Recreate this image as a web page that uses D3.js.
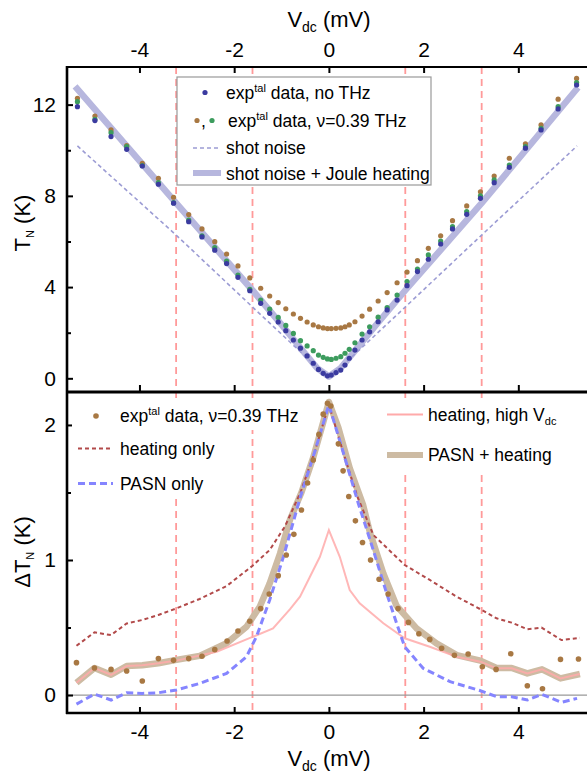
<!DOCTYPE html>
<html>
<head>
<meta charset="utf-8">
<script src="https://cdn.jsdelivr.net/npm/d3@7"></script>
<style>
  body { margin: 0; background: #fff; }
  svg text { font-family: "Liberation Sans", Arial, sans-serif; }
</style>
</head>
<body>
<div id="chart"></div>
<script>
// size of page and plot frame
const width = 587;
const height = 775;
const frame = {left: 67, right: 587, top: 67, mid: 392, bottom: 713};

// ---- top panel data (T_N vs V_dc) ----
const vPts = [-5.31, -4.94, -4.6, -4.27, -3.94, -3.6, -3.28, -2.96, -2.68, -2.41, -2.16, -1.92,
  -1.67, -1.44, -1.25, -1.07, -0.91, -0.75, -0.6, -0.46, -0.33, -0.22, -0.12, -0.03,
  0.05, 0.15, 0.25, 0.34, 0.43, 0.55, 0.70, 0.86, 1.04, 1.23, 1.44, 1.65, 1.87, 2.1,
  2.36, 2.61, 2.91, 3.2, 3.49, 3.81, 4.15, 4.48, 4.84, 5.23];
const tBrown = [12.28, 11.5, 10.89, 10.2, 9.43, 8.77, 7.94, 7.18, 6.55, 5.99, 5.45, 4.93,
  4.4, 3.95, 3.61, 3.32, 3.05, 2.82, 2.63, 2.47, 2.34, 2.26, 2.21, 2.18,
  2.18, 2.19, 2.21, 2.26, 2.34, 2.48, 2.73, 3.03, 3.39, 3.76, 4.19, 4.66, 5.16, 5.7,
  6.25, 6.91, 7.56, 8.18, 8.87, 9.65, 10.28, 11.11, 12.24, 13.15];
const tGreen = [12.13, 11.36, 10.77, 10.16, 9.33, 8.58, 7.7, 6.94, 6.25, 5.73, 5.14, 4.53,
  3.9, 3.43, 3.03, 2.67, 2.32, 1.97, 1.65, 1.42, 1.21, 1.02, 0.92, 0.85,
  0.83, 0.88, 0.95, 1.1, 1.27, 1.56, 1.94, 2.26, 2.68, 3.1, 3.65, 4.24, 4.79, 5.41,
  6.02, 6.65, 7.31, 8.0, 8.7, 9.35, 10.16, 10.96, 11.91, 12.97];
const tBlue = [11.91, 11.3, 10.6, 10.04, 9.31, 8.51, 7.68, 6.87, 6.2, 5.62, 5.03, 4.43,
  3.84, 3.29, 2.85, 2.47, 2.09, 1.68, 1.32, 0.98, 0.66, 0.39, 0.22, 0.11,
  0.14, 0.25, 0.36, 0.58, 0.88, 1.24, 1.68, 2.04, 2.48, 3.0, 3.43, 4.06, 4.68, 5.22,
  5.89, 6.55, 7.19, 7.89, 8.58, 9.25, 10.09, 10.89, 11.81, 12.86];

const shotV = [-5.31, -3.22, -1.61, -0.75, -0.4, -0.2, 0, 0.2, 0.4, 0.75, 1.61, 3.22, 5.24];
const shotT = [10.19, 6.27, 3.12, 1.45, 0.78, 0.42, 0.1, 0.42, 0.78, 1.45, 3.12, 6.27, 10.19];

const jouleV = [-5.36, -3.22, -1.61, -1.0, -0.5, -0.25, 0, 0.25, 0.5, 1.0, 1.61, 3.22, 5.26];
const jouleT = [12.8, 7.67, 3.85, 2.35, 1.08, 0.45, 0.08, 0.45, 1.08, 2.35, 3.85, 7.67, 12.75];

// ---- bottom panel data (delta T_N vs V_dc) ----
const dV = [-5.33, -4.95, -4.6, -4.27, -3.94, -3.6, -3.28, -2.96, -2.68, -2.41, -2.15, -1.92,
  -1.67, -1.44, -1.26, -1.07, -0.9, -0.74, -0.58, -0.45, -0.33, -0.21, -0.12, -0.03,
  0.04, 0.2, 0.3, 0.42, 0.56, 0.71, 0.88, 1.06, 1.25, 1.46, 1.68, 1.9, 2.13, 2.38,
  2.65, 2.94, 3.24, 3.53, 3.84, 4.19, 4.51, 4.89, 5.27];
const dT = [0.24, 0.2, 0.19, 0.178, 0.104, 0.27, 0.257, 0.27, 0.287, 0.336, 0.4, 0.474,
  0.546, 0.64, 0.748, 0.884, 1.037, 1.19, 1.37, 1.57, 1.74, 1.93, 2.08, 2.16,
  2.14, 1.86, 1.66, 1.47, 1.29, 1.13, 1.0, 0.857, 0.748, 0.64, 0.538, 0.454, 0.412, 0.346,
  0.294, 0.304, 0.21, 0.19, 0.306, 0.069, 0.047, 0.264, 0.267];

const heatV = [-5.33, -4.95, -4.6, -4.27, -3.94, -3.6, -3.22, -2.73, -2.16, -1.61, -1.25, -0.93,
  -0.6, -0.3, 0, 0.3, 0.6, 0.94, 1.6, 2.13, 2.7, 3.2, 3.54, 3.86, 4.19, 4.49, 4.91, 5.3];
const heatT = [0.365, 0.464, 0.444, 0.53, 0.556, 0.593, 0.642, 0.711, 0.807, 0.958, 1.074, 1.247,
  1.5, 1.8, 2.15, 1.8, 1.47, 1.185, 0.963, 0.852, 0.728, 0.635, 0.568, 0.536, 0.487, 0.499, 0.407, 0.424];

const pasnV = [-5.33, -4.95, -4.6, -4.27, -3.94, -3.6, -3.22, -2.73, -2.16, -1.74, -1.53, -1.25,
  -0.96, -0.6, -0.3, 0, 0.3, 0.62, 0.87, 1.22, 1.43, 1.6, 1.99, 2.56, 3.2, 3.54, 3.86, 4.19,
  4.5, 4.91, 5.24];
const pasnT = [-0.067, 0.007, -0.037, 0.017, 0.012, 0.017, 0.037, 0.086, 0.16, 0.284, 0.432, 0.704,
  1.024, 1.47, 1.8, 2.15, 1.8, 1.42, 1.148, 0.753, 0.531, 0.358, 0.198, 0.099, 0.032, -0.012, -0.012, -0.037,
  0.005, -0.054, -0.025];

const highV = [-5.33, -4.95, -4.6, -4.27, -3.94, -3.6, -3.22, -2.37, -1.6, -1.18, -0.82, -0.61,
  -0.4, -0.19, 0, 0.23, 0.44, 0.65, 1.15, 1.6, 2.13, 2.7, 3.2, 3.54, 3.86, 4.19, 4.5, 4.89, 5.3];
const highT = [0.091, 0.2, 0.15, 0.215, 0.22, 0.235, 0.255, 0.321, 0.432, 0.494, 0.636, 0.728,
  0.876, 1.024, 1.222, 1.024, 0.778, 0.679, 0.531, 0.42, 0.358, 0.284, 0.247, 0.198, 0.198, 0.16, 0.19, 0.123, 0.156];

const bothV = [-5.33, -4.95, -4.6, -4.27, -3.94, -3.6, -3.22, -2.73, -2.16, -1.74, -1.46, -1.25,
  -1.03, -0.82, -0.58, -0.33, -0.12, 0, 0.2, 0.44, 0.72, 0.87, 1.15, 1.43, 1.85, 2.27, 2.7,
  3.2, 3.54, 3.86, 4.19, 4.5, 4.89, 5.3];
const bothT = [0.091, 0.2, 0.15, 0.215, 0.22, 0.235, 0.26, 0.29, 0.383, 0.506, 0.654, 0.827,
  1.05, 1.3, 1.5, 1.76, 2.02, 2.17, 1.98, 1.68, 1.41, 1.2, 0.9, 0.66, 0.494, 0.383, 0.296,
  0.255, 0.2, 0.2, 0.16, 0.19, 0.123, 0.156];

// photon energy lines hf/e and 2hf/e
const photonV = [-3.226, -1.613, 1.613, 3.226];

const xTicks = [-4, -2, 0, 2, 4];
const yTopTicks = [0, 4, 8, 12];
const yTopMinor = [2, 6, 10];
const yBotTicks = [0, 1, 2];
const yBotMinor = [0.5, 1.5];

const svg = d3.select("#chart").append("svg")
  .attr("width", width)
  .attr("height", height);

// scales
const x = d3.scaleLinear().domain([-5.53, 5.45]).range([frame.left, frame.right]);
const yTop = d3.scaleLinear().domain([-0.6, 13.65]).range([frame.mid, frame.top]);
const yBot = d3.scaleLinear().domain([-0.133, 2.244]).range([frame.bottom, frame.mid]);

const pairs = (vs, ts) => vs.map((v, i) => [v, ts[i]]);
const lineTop = d3.line().x(d => x(d[0])).y(d => yTop(d[1]));
const lineBot = d3.line().x(d => x(d[0])).y(d => yBot(d[1]));

// vertical photon lines across both panels
svg.append("g").selectAll("line")
  .data(photonV)
  .enter().append("line")
    .attr("x1", d => x(d)).attr("x2", d => x(d))
    .attr("y1", frame.top).attr("y2", frame.bottom)
    .attr("stroke", "#ff9a9a")
    .attr("stroke-width", 1.8)
    .attr("stroke-dasharray", "7,5");

// zero line bottom panel
svg.append("line")
  .attr("x1", frame.left).attr("x2", frame.right)
  .attr("y1", yBot(0)).attr("y2", yBot(0))
  .attr("stroke", "#999").attr("stroke-width", 1.2);

/* top panel curves */
svg.append("path")
  .attr("d", lineTop(pairs(jouleV, jouleT)))
  .attr("fill", "none").attr("stroke", "#b7b7de").attr("stroke-width", 6.5)
  .attr("stroke-linejoin", "round");

svg.append("path")
  .attr("d", lineTop(pairs(shotV, shotT)))
  .attr("fill", "none").attr("stroke", "#9c9cd4").attr("stroke-width", 1.6)
  .attr("stroke-dasharray", "4,3");

const dots = (vs, ts, yS, color, r) => {
  svg.append("g").selectAll("circle")
    .data(pairs(vs, ts))
    .enter().append("circle")
      .attr("cx", d => x(d[0]))
      .attr("cy", d => yS(d[1]))
      .attr("r", r)
      .attr("fill", color);
};
dots(vPts, tBrown, yTop, "#a87843", 2.6);
dots(vPts, tGreen, yTop, "#3d9c5e", 2.6);
dots(vPts, tBlue, yTop, "#3b3ba0", 2.6);

/* bottom panel curves */
svg.append("path")
  .attr("d", lineBot(pairs(bothV, bothT)))
  .attr("fill", "none").attr("stroke", "#cdbba3").attr("stroke-width", 6.5)
  .attr("stroke-linejoin", "round");

svg.append("path")
  .attr("d", lineBot(pairs(highV, highT)))
  .attr("fill", "none").attr("stroke", "#ffaaaa").attr("stroke-width", 2)
  .attr("opacity", 0.85);

svg.append("path")
  .attr("d", lineBot(pairs(heatV, heatT)))
  .attr("fill", "none").attr("stroke", "#b24a4a").attr("stroke-width", 2)
  .attr("stroke-dasharray", "4,3");

svg.append("path")
  .attr("d", lineBot(pairs(pasnV, pasnT)))
  .attr("fill", "none").attr("stroke", "#8585ff").attr("stroke-width", 3)
  .attr("stroke-dasharray", "7,4");

dots(dV, dT, yBot, "#a87843", 2.8);

/* axes */
const fmt = d => String(d);
const styleAxis = g => {
  g.select(".domain").remove();
  g.selectAll("text").attr("font-size", "21px").attr("fill", "#000");
  g.selectAll("line").attr("stroke", "#000").attr("stroke-width", 2);
};

svg.append("g")
  .attr("transform", `translate(0,${frame.top})`)
  .call(d3.axisTop(x).tickValues(xTicks).tickSize(-6).tickPadding(10).tickFormat(fmt))
  .call(styleAxis);

// ticks on top panel lower edge, no labels
svg.append("g")
  .attr("transform", `translate(0,${frame.mid})`)
  .call(d3.axisBottom(x).tickValues(xTicks).tickSize(-7).tickFormat(""))
  .call(styleAxis);

svg.append("g")
  .attr("transform", `translate(0,${frame.bottom})`)
  .call(d3.axisBottom(x).tickValues(xTicks).tickSize(-6).tickPadding(11).tickFormat(fmt))
  .call(styleAxis);

svg.append("g")
  .attr("transform", `translate(${frame.left},0)`)
  .call(d3.axisLeft(yTop).tickValues(yTopTicks).tickSize(-6).tickPadding(11).tickFormat(fmt))
  .call(styleAxis);
svg.append("g")
  .attr("transform", `translate(${frame.left},0)`)
  .call(d3.axisLeft(yTop).tickValues(yTopMinor).tickSize(-4).tickFormat(""))
  .call(styleAxis);

svg.append("g")
  .attr("transform", `translate(${frame.left},0)`)
  .call(d3.axisLeft(yBot).tickValues(yBotTicks).tickSize(-6).tickPadding(11).tickFormat(fmt))
  .call(styleAxis);
svg.append("g")
  .attr("transform", `translate(${frame.left},0)`)
  .call(d3.axisLeft(yBot).tickValues(yBotMinor).tickSize(-4).tickFormat(""))
  .call(styleAxis);

// frame lines
svg.append("line").attr("x1", frame.left - 1).attr("x2", frame.right)
  .attr("y1", frame.top).attr("y2", frame.top).attr("stroke", "#000").attr("stroke-width", 2.2);
svg.append("line").attr("x1", frame.left - 1).attr("x2", frame.right)
  .attr("y1", frame.mid).attr("y2", frame.mid).attr("stroke", "#000").attr("stroke-width", 3.2);
svg.append("line").attr("x1", frame.left - 1).attr("x2", frame.right)
  .attr("y1", frame.bottom).attr("y2", frame.bottom).attr("stroke", "#000").attr("stroke-width", 2.5);
svg.append("line").attr("x1", frame.left).attr("x2", frame.left)
  .attr("y1", frame.top - 1).attr("y2", frame.bottom + 1).attr("stroke", "#000").attr("stroke-width", 2.6);

/* axis titles */
const vdcTitle = (yPos) => {
  const t = svg.append("text").attr("x", 329).attr("y", yPos)
    .attr("text-anchor", "middle").attr("font-size", "22px");
  t.append("tspan").text("V");
  t.append("tspan").attr("font-size", "14px").attr("dy", 5).text("dc");
  t.append("tspan").attr("dy", -5).text(" (mV)");
};
vdcTitle(27);
vdcTitle(766);

const yTitle = (cy, pre) => {
  const t = svg.append("text")
    .attr("transform", `translate(30,${cy}) rotate(-90)`)
    .attr("text-anchor", "middle").attr("font-size", "22px");
  t.append("tspan").text(pre);
  t.append("tspan").attr("font-size", "11px").attr("dy", 4).text("N");
  t.append("tspan").attr("dy", -4).text(" (K)");
};
yTitle(223, "T");
yTitle(552, "\u0394T");

/* legends */
const expText = (g, xPos, yPos, rest) => {
  const t = g.append("text").attr("x", xPos).attr("y", yPos).attr("font-size", "17.5px");
  t.append("tspan").text("exp");
  t.append("tspan").attr("font-size", "11px").attr("dy", -7).text("tal");
  t.append("tspan").attr("dy", 7).text(rest);
  return t;
};

// top legend box
const legTop = svg.append("g");
legTop.append("rect")
  .attr("x", 177).attr("y", 77).attr("width", 254).attr("height", 108)
  .attr("fill", "#fff").attr("stroke", "#999").attr("stroke-width", 1.2);
legTop.append("circle").attr("cx", 205).attr("cy", 92.5).attr("r", 2.6).attr("fill", "#3b3ba0");
expText(legTop, 226, 99, " data, no THz");
legTop.append("circle").attr("cx", 197).attr("cy", 120.5).attr("r", 2.6).attr("fill", "#a87843");
legTop.append("text").attr("x", 201).attr("y", 127).attr("font-size", "17.5px").text(",");
legTop.append("circle").attr("cx", 212).attr("cy", 120.5).attr("r", 2.6).attr("fill", "#3d9c5e");
expText(legTop, 228, 127, " data,  \u03bd=0.39 THz");
legTop.append("line").attr("x1", 193).attr("x2", 221).attr("y1", 148).attr("y2", 148)
  .attr("stroke", "#9c9cd4").attr("stroke-width", 1.6).attr("stroke-dasharray", "4,3");
legTop.append("text").attr("x", 226).attr("y", 154).attr("font-size", "17.5px").text("shot noise");
legTop.append("line").attr("x1", 193).attr("x2", 221).attr("y1", 173).attr("y2", 173)
  .attr("stroke", "#b7b7de").attr("stroke-width", 6);
legTop.append("text").attr("x", 226).attr("y", 180).attr("font-size", "17.5px").text("shot noise + Joule heating");

// bottom legend, white backing behind each entry
const legBot = svg.append("g");
legBot.append("rect").attr("x", 72).attr("y", 400).attr("width", 233).attr("height", 30).attr("fill", "#fff");
legBot.append("rect").attr("x", 72).attr("y", 430).attr("width", 172).attr("height", 68).attr("fill", "#fff");
legBot.append("rect").attr("x", 383).attr("y", 400).attr("width", 180).attr("height", 72).attr("fill", "#fff");

legBot.append("circle").attr("cx", 96).attr("cy", 416).attr("r", 2.8).attr("fill", "#a87843");
expText(legBot, 120, 422, " data,  \u03bd=0.39 THz");
legBot.append("line").attr("x1", 78).attr("x2", 113).attr("y1", 448.5).attr("y2", 448.5)
  .attr("stroke", "#b24a4a").attr("stroke-width", 2).attr("stroke-dasharray", "4,3");
legBot.append("text").attr("x", 120).attr("y", 455).attr("font-size", "17.5px").text("heating only");
legBot.append("line").attr("x1", 78).attr("x2", 113).attr("y1", 483.5).attr("y2", 483.5)
  .attr("stroke", "#8585ff").attr("stroke-width", 3).attr("stroke-dasharray", "7,4");
legBot.append("text").attr("x", 120).attr("y", 490).attr("font-size", "17.5px").text("PASN only");

legBot.append("line").attr("x1", 387).attr("x2", 423).attr("y1", 414.5).attr("y2", 414.5)
  .attr("stroke", "#ffaaaa").attr("stroke-width", 2);
const hh = legBot.append("text").attr("x", 428).attr("y", 421).attr("font-size", "17.5px");
hh.append("tspan").text("heating, high V");
hh.append("tspan").attr("font-size", "11px").attr("dy", 4).text("dc");
legBot.append("line").attr("x1", 387).attr("x2", 423).attr("y1", 455).attr("y2", 455)
  .attr("stroke", "#cdbba3").attr("stroke-width", 6);
legBot.append("text").attr("x", 428).attr("y", 461).attr("font-size", "17.5px").text("PASN + heating");
</script>
</body>
</html>
